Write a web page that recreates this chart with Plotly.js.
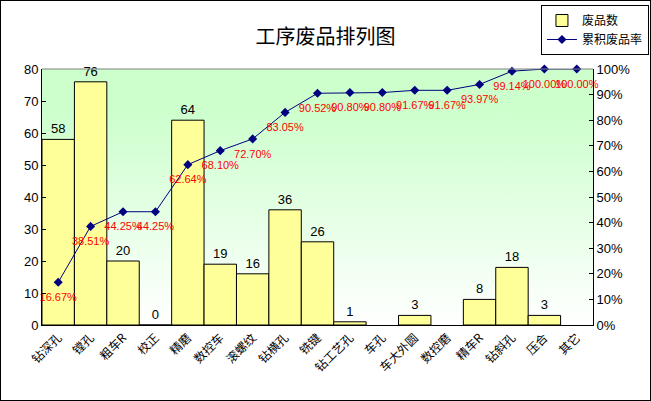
<!DOCTYPE html>
<html>
<head>
<meta charset="utf-8">
<script src="https://cdn.plot.ly/plotly-3.0.1.min.js"></script>
<style>
  html, body { margin: 0; padding: 0; background: #fff; }
  #chart { width: 651px; height: 401px; box-sizing: border-box; border: 1px solid #000; }
</style>
</head>
<body>
<div id="chart"></div>
<script>
// 工序废品排列图 - pareto of scrap counts per process
const processes = ['钻深孔', '镗孔', '粗车R', '校正', '精磨', '数控车', '滚螺纹', '钻横孔', '铣键',
    '钻工艺孔', '车孔', '车大外圆', '数控磨', '精车R', '钻斜孔', '压合', '其它'];
const scrapCounts = [58, 76, 20, 0, 64, 19, 16, 36, 26, 1, null, 3, null, 8, 18, 3, null];
const cumulativePct = [16.67, 38.51, 44.25, 44.25, 62.64, 68.10, 72.70, 83.05, 90.52,
    90.80, 90.80, 91.67, 91.67, 93.97, 99.14, 100.00, 100.00];

const LABEL_FONT = 'Arial, "Liberation Sans", "Noto Sans CJK SC", sans-serif';
const CJK_FONT = '"Noto Sans CJK SC", sans-serif';

const bgSvg = '<svg xmlns="http://www.w3.org/2000/svg" width="10" height="100" preserveAspectRatio="none">' +
    '<defs><linearGradient id="g" x1="0" y1="0" x2="0" y2="1">' +
    '<stop offset="0" stop-color="#ccffcc"/><stop offset="0.15" stop-color="#ccffcc"/>' +
    '<stop offset="1" stop-color="#ffffff"/></linearGradient></defs>' +
    '<rect width="10" height="100" fill="url(#g)"/></svg>';

const traceBars = {
    x: processes, y: scrapCounts, type: 'bar', name: '废品数',
    marker: { color: '#ffff99', line: { color: '#000', width: 1 } },
    text: scrapCounts.map(v => v === null ? '' : String(v)),
    textposition: 'outside', textfont: { color: '#000', size: 13, family: LABEL_FONT },
    cliponaxis: false, hoverinfo: 'skip',
};
const traceCum = {
    x: processes, y: cumulativePct, type: 'scatter', mode: 'lines+markers', name: '累积废品率',
    yaxis: 'y2',
    line: { color: '#000080', width: 1 }, marker: { color: '#000080', symbol: 'diamond', size: 7 },
    cliponaxis: false, hoverinfo: 'skip',
};
// labels drawn on a clear, bigger marker so they sit lower under each point
const traceCumLabels = {
    x: processes, y: cumulativePct, type: 'scatter', mode: 'markers+text', yaxis: 'y2', showlegend: false,
    marker: { color: 'rgba(0,0,0,0)', size: 15 },
    text: cumulativePct.map(v => v.toFixed(2) + '%'),
    textposition: 'bottom center', textfont: { color: '#ff0000', size: 11, family: LABEL_FONT },
    cliponaxis: false, hoverinfo: 'skip',
};

const layout = {
    width: 649, height: 399,
    margin: { l: 41, r: 57, t: 68, b: 75, autoexpand: false },
    paper_bgcolor: '#fff', plot_bgcolor: 'rgba(0,0,0,0)',
    title: { text: '工序废品排列图', font: { family: CJK_FONT, size: 20, color: '#000' },
        xref: 'container', yref: 'container', x: 0.5, xanchor: 'center', y: 0.91, yanchor: 'middle', automargin: false },
    bargap: 0,
    showlegend: true,
    legend: { xref: 'container', yref: 'container', x: 0.832, y: 0.99, xanchor: 'left', yanchor: 'top',
        bgcolor: '#fff', bordercolor: '#000', borderwidth: 1,
        font: { family: CJK_FONT, size: 12, color: '#000' }, tracegroupgap: 0, itemwidth: 30 },
    xaxis: {
        type: 'category', range: [-0.5, 16.5], autorange: false, automargin: false,
        tickangle: -45, showgrid: false, showline: true, linecolor: '#000', linewidth: 1,
        ticks: '', tickfont: { family: CJK_FONT, size: 12, color: '#000' }, zeroline: false,
    },
    yaxis: {
        range: [0, 80], autorange: false, automargin: false, dtick: 10,
        showgrid: false, showline: true, linecolor: '#000', linewidth: 1,
        ticks: 'inside', ticklen: 4, tickcolor: '#000', zeroline: false,
        tickfont: { family: LABEL_FONT, size: 13, color: '#000' },
    },
    yaxis2: {
        range: [0, 100], autorange: false, automargin: false, dtick: 10, ticksuffix: '%',
        overlaying: 'y', side: 'right',
        showgrid: false, showline: true, linecolor: '#000', linewidth: 1,
        ticks: 'inside', ticklen: 4, tickcolor: '#000', zeroline: false,
        tickfont: { family: LABEL_FONT, size: 13, color: '#000' },
    },
    shapes: [
        { type: 'line', xref: 'paper', yref: 'paper', x0: 0, x1: 1, y0: 1, y1: 1, line: { color: '#808080', width: 1 } },
    ],
    images: [{
        source: 'data:image/svg+xml;charset=utf-8,' + encodeURIComponent(bgSvg),
        xref: 'paper', yref: 'paper', x: 0, y: 1, sizex: 1, sizey: 1,
        xanchor: 'left', yanchor: 'top', sizing: 'stretch', layer: 'below',
    }],
};

Plotly.newPlot('chart', [traceBars, traceCum, traceCumLabels], layout, { displayModeBar: false, staticPlot: true });
</script>
</body>
</html>
